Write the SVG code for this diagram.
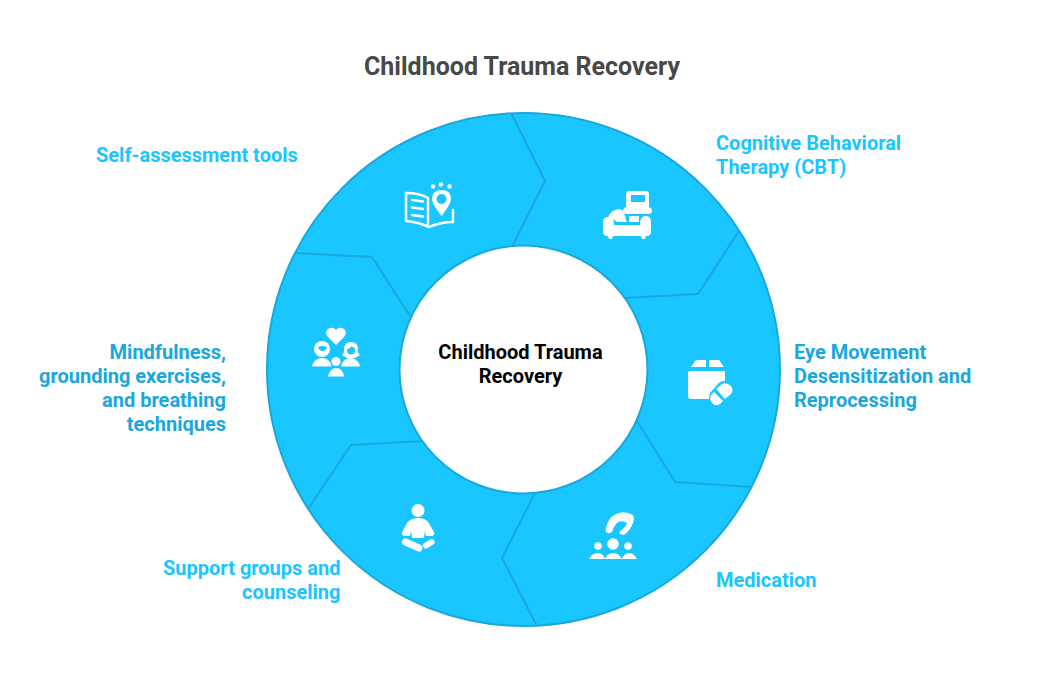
<svg xmlns="http://www.w3.org/2000/svg" width="1044" height="681" viewBox="0 0 1044 681">
<style>
text{font-family:Roboto,"Liberation Sans",sans-serif;font-weight:700;font-size:20px}
.c{fill:#1AC6FF}.d{fill:#1AA7DC}.k{fill:#000}
.sep{fill:none;stroke:#1AA7DC;stroke-width:2;stroke-linejoin:round}
.w{fill:#fff}.h{fill:#1AC6FF}.o{fill:none;stroke:#fff;stroke-width:2.500;stroke-linecap:round;stroke-linejoin:round}
</style>
<rect width="1044" height="681" fill="#fff"/>
<text id="title" x="522" y="75" text-anchor="middle" fill="#484848" style="font-size:25px">Childhood Trauma Recovery</text>
<g id="ring">
<path d="M523.500 113A256.500 256.500 0 1 1 523.500 626A256.500 256.500 0 1 1 523.500 113ZM523.500 245.500A124 124 0 1 0 523.500 493.500A124 124 0 1 0 523.500 245.500Z" fill="#1AC6FF" fill-rule="evenodd" stroke="#1AA7DC" stroke-width="2"/>
</g>
<g id="connectors">
<path class="sep" d="M511 113L545 181L513 245"/>
<path class="sep" d="M739 231L698 294L624 298"/>
<path class="sep" d="M752 487L675 482L637 421"/>
<path class="sep" d="M537 626L502 558L535 493"/>
<path class="sep" d="M308 509L351 445L423 441"/>
<path class="sep" d="M295 253L372 257L410 316"/>
</g>
<g id="center"><text x="520.500" y="359" text-anchor="middle" class="k">Childhood Trauma</text><text x="520.500" y="383" text-anchor="middle" class="k">Recovery</text></g>
<g id="node-cbt">
<text x="716" y="150" class="c">Cognitive Behavioral</text><text x="716" y="174" class="c">Therapy (CBT)</text>
<path class="w" d="M629 191H646Q649 191 649 195V207Q652 208 652 211Q652 214 648 214H627Q623 214 623 211Q623 208 626 207V195Q626 191 629 191Z"/>
<rect x="631" y="195" width="14" height="7" class="h"/>
<path class="w" d="M608 217Q612 209 620 209Q624 210 626 220L627 222H617Q614 219 608 217ZM629 216H639V222H629Z"/>
<path class="w" d="M608 217Q614 217 614 224V225H640V224Q640 216 646 216Q651 216 651 222V231Q651 236 647 236H646L645 239H642L641 236H613L612 239H609L608 236H607Q603 236 603 231V222Q603 217 608 217Z"/>
</g>
<g id="node-emdr">
<text x="794" y="359" class="d">Eye Movement</text><text x="794" y="383" class="d">Desensitization and</text><text x="794" y="407" class="d">Reprocessing</text>
<path class="w" d="M696 360H706V367H691ZM709 360H719L724 367H709Z"/>
<path class="w" d="M690 371H724Q725 371 725 372V381Q720 381 717 385L710 393Q709 396 709 399H691Q688 399 688 396V373Q688 371 690 371Z"/>
<path class="w" d="M722 384Q726 382 731 386Q734 390 731 394L725 399L716 389Z"/>
<path class="w" d="M714 392L723 401L720 404Q716 407 712 403Q709 399 711 395Z"/>
</g>
<g id="node-medication">
<text x="716" y="587" class="c">Medication</text>
<path class="w" d="M605.500 531Q607 518 616 514Q624 510 633 515Q635 520 632 525Q629 532 624 535Q620 535 619 532Q626 527 627 523Q620 519 616 524Q613 528 612 532Q608 535 605.500 531Z"/>
<circle cx="598" cy="546" r="3.800" class="w"/><circle cx="613" cy="544" r="5.800" class="w"/><circle cx="628" cy="546" r="3.800" class="w"/>
<path class="w" d="M589 559Q592 553 598 553Q603 553 605 559ZM605 559Q607 553 613 553Q619 553 622 559ZM622 559Q624 553 629 553Q634 553 637 559Z"/>
</g>
<g id="node-support">
<text x="340.500" y="575" text-anchor="end" class="c">Support groups and</text><text x="340.500" y="599" text-anchor="end" class="c">counseling</text>
<circle cx="418" cy="510.500" r="6.500" class="w"/>
<path class="w" d="M418 518Q427 518 430 525L434 532Q435 536 431 536H426L425 531L424 538H412L411 531L410 536H405Q401 536 402 532L406 525Q409 518 418 518Z"/>
<path fill="none" stroke="#fff" stroke-width="7" stroke-linecap="round" d="M405.500 542L419 548"/>
<path fill="none" stroke="#fff" stroke-width="6" stroke-linecap="round" d="M426 545.500L431.500 542"/>
</g>
<g id="node-mindfulness">
<text x="226" y="359" text-anchor="end" class="d">Mindfulness,</text><text x="226" y="383" text-anchor="end" class="d">grounding exercises,</text><text x="226" y="407" text-anchor="end" class="d">and breathing</text><text x="226" y="431" text-anchor="end" class="d">techniques</text>
<path class="w" d="M336 345L328 337Q324 332 328 329Q333 326 336 330Q339 326 344 329Q348 332 344 337Z"/>
<circle cx="322" cy="349" r="8" class="w"/><path class="h" d="M318 347Q322.500 345 327 347Q326 351 322.500 351Q319 351 318 347Z"/>
<path class="w" d="M351 342Q358 342 358 350Q358 354 360 355L355 358H347L342 355Q344 354 344 350Q344 342 351 342Z"/><circle cx="351" cy="350.500" r="4" class="h"/><path class="w" d="M346 349Q351 349 351 345L356 349L354 346H348Z"/>
<circle cx="336" cy="361.500" r="4.500" class="w"/>
<path class="w" d="M312 366.500Q314 358 322 358Q330 358 331.500 366.500ZM341 366.500Q343 358 350.500 358Q358 358 360 366.500ZM328 376.500Q330 368 336 368Q343 368 344 376.500Z"/>
</g>
<g id="node-self">
<text x="96" y="162" class="c">Self-assessment tools</text>
<path class="o" d="M428 198V224M428 198Q420 193 406 193V221Q418 222 429 227Q441 222 453 222V210"/>
<path class="o" d="M412 200L423 201.500M412 207.500L423 209M412 215L423 216.500"/>
<path class="w" d="M441.500 190Q451 190 451 199Q451 204 441.500 216Q432 204 432 199Q432 190 441.500 190Z"/>
<circle cx="441.500" cy="199" r="5" class="h"/>
<circle cx="441" cy="184.500" r="2.200" class="w"/><circle cx="433" cy="186.500" r="2.200" class="w"/><circle cx="449.500" cy="186.500" r="2.200" class="w"/>
</g>
</svg>
